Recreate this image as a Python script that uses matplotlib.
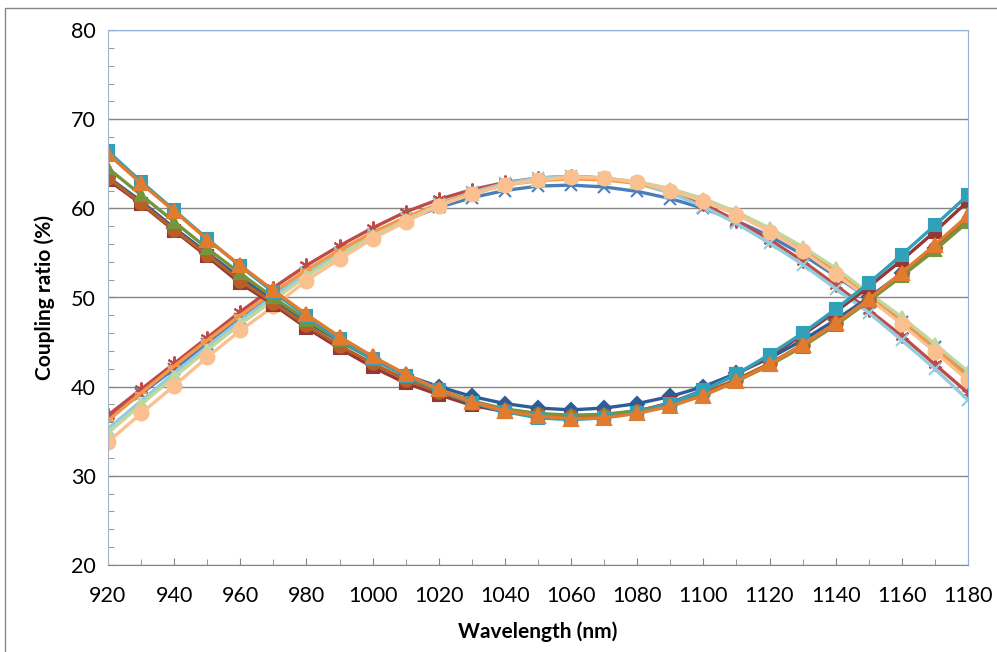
import matplotlib
matplotlib.use("Agg")
import matplotlib.pyplot as plt
import numpy as np
from matplotlib.patches import Rectangle

plt.rcParams['font.family'] = ['Lato', 'DejaVu Sans']

wl = np.arange(920, 1181, 10)

# falling branch (starts high, dips near 1060)
down_diamond = [63.5, 60.8, 57.8, 55.0, 52.2, 49.8, 47.3, 45.1, 43.1, 41.3, 40.0, 38.9, 38.1, 37.6,
                37.4, 37.6, 38.1, 38.9, 40.0, 41.5, 43.2, 45.2, 47.5, 50.0, 52.7, 55.5, 58.6]
down_square = [63.2, 60.5, 57.5, 54.6, 51.6, 49.2, 46.6, 44.3, 42.2, 40.4, 39.1, 37.9, 37.2, 36.7,
               36.5, 36.7, 37.2, 38.2, 39.6, 41.4, 43.4, 45.8, 48.4, 51.2, 54.2, 57.4, 60.8]
down_triangle = [64.5, 61.5, 58.5, 55.5, 52.7, 50.0, 47.5, 45.2, 43.1, 41.3, 39.7, 38.4, 37.5, 37.0,
                 36.8, 36.9, 37.3, 38.0, 39.1, 40.6, 42.4, 44.5, 46.9, 49.6, 52.4, 55.3, 58.5]
down_teal = [66.4, 63.0, 59.8, 56.6, 53.5, 50.6, 47.9, 45.3, 43.1, 41.2, 39.6, 38.2, 37.2, 36.5,
             36.3, 36.5, 37.1, 38.1, 39.6, 41.4, 43.6, 46.0, 48.7, 51.6, 54.8, 58.1, 61.5]
down_orange = [66.1, 62.8, 59.7, 56.5, 53.6, 50.8, 48.1, 45.6, 43.4, 41.4, 39.7, 38.3, 37.3, 36.7,
               36.4, 36.5, 37.0, 37.8, 39.0, 40.6, 42.5, 44.7, 47.1, 49.8, 52.8, 55.9, 59.2]
down_circle = [63.4, 60.6, 57.6, 54.8, 51.9, 49.4, 46.9, 44.6, 42.6, 40.8, 39.4, 38.2, 37.4, 36.9,
               36.7, 36.8, 37.3, 38.1, 39.3, 40.8, 42.6, 44.7, 47.1, 49.7, 52.5, 55.5, 58.7]

# rising branch (starts low, peaks near 1060)
up_x = [36.5, 39.2, 42.0, 44.8, 47.6, 50.2, 52.7, 55.0, 57.0, 58.7, 60.1, 61.2, 62.0, 62.5,
        62.6, 62.4, 61.9, 61.1, 60.0, 58.6, 56.9, 54.8, 52.4, 49.9, 47.2, 44.4, 41.5]
up_star = [36.8, 39.7, 42.6, 45.5, 48.4, 51.1, 53.6, 55.8, 57.8, 59.6, 61.0, 62.1, 62.9, 63.4,
           63.6, 63.4, 62.9, 61.9, 60.5, 58.6, 56.5, 54.1, 51.4, 48.6, 45.7, 42.5, 39.3]
up_triangle = [34.8, 38.0, 41.1, 44.1, 47.0, 49.7, 52.4, 54.7, 56.9, 58.7, 60.4, 61.6, 62.6, 63.2,
               63.5, 63.4, 63.0, 62.2, 61.1, 59.6, 57.8, 55.7, 53.3, 50.5, 47.8, 44.8, 41.7]
up_lightblue = [35.3, 38.4, 41.5, 44.5, 47.4, 50.1, 52.7, 55.0, 57.1, 58.9, 60.5, 61.8, 62.8, 63.4,
                63.6, 63.4, 62.8, 61.7, 60.2, 58.3, 56.1, 53.7, 51.0, 48.3, 45.2, 42.0, 38.5]
up_orange = [36.2, 39.3, 42.3, 45.2, 48.0, 50.6, 53.1, 55.3, 57.3, 59.0, 60.5, 61.7, 62.6, 63.1,
             63.3, 63.2, 62.8, 62.0, 60.9, 59.4, 57.6, 55.5, 53.0, 50.3, 47.5, 44.4, 41.1]
up_circle = [33.8, 37.0, 40.1, 43.3, 46.3, 49.0, 51.9, 54.3, 56.6, 58.5, 60.3, 61.6, 62.6, 63.2,
             63.5, 63.4, 62.9, 62.0, 60.8, 59.3, 57.4, 55.2, 52.6, 49.9, 47.0, 43.9, 40.7]

series = [
    (up_x, "#4A7EBB", "x", 8),
    (up_star, "#BE4B48", (6, 2, 0), 10),
    (up_lightblue, "#93CDDD", "x", 8),
    (up_orange, "#F79646", "_", 8),
    (up_triangle, "#C3D69B", "^", 9),
    (up_circle, "#FAC090", "o", 10),
    (down_diamond, "#2C5D98", "D", 7),
    (down_square, "#953735", "s", 8),
    (down_circle, "#B65F27", "o", 9),
    (down_triangle, "#77933C", "^", 9),
    (down_teal, "#31A0B8", "s", 9),
    (down_orange, "#E07B30", "^", 10),
]

fig = plt.figure(figsize=(9.97, 6.52), dpi=100)
ax = fig.add_axes([108 / 997, 1 - 565 / 652, 860 / 997, 535 / 652])

for vals, col, mk, ms in series:
    ax.plot(wl, vals, color=col, lw=2.4, marker=mk, ms=ms, mec=col, mfc=col, mew=1.5)

ax.set_xlim(920, 1180)
ax.set_ylim(20, 80)
ax.set_xticks(np.arange(920, 1181, 20))
ax.set_xticks(np.arange(920, 1181, 10), minor=True)
ax.set_yticks(np.arange(20, 81, 10))
ax.set_yticks(np.arange(20, 81, 2), minor=True)
ax.yaxis.grid(True, which="major", color="#868686", lw=1)
ax.set_axisbelow(True)
ax.tick_params(which="both", direction="in", color="#868686", labelsize=15.5)
ax.tick_params(which="major", length=5)
ax.tick_params(which="minor", length=4)
ax.tick_params(axis="y", which="major", pad=9)
ax.tick_params(axis="x", which="major", pad=15)

ax.spines["top"].set_color("#95B3D7")
ax.spines["right"].set_color("#95B3D7")
ax.spines["left"].set_color("#A6B5C8")
ax.spines["bottom"].set_color("#868686")

ax.set_xlabel("Wavelength (nm)", fontsize=15, fontweight="bold", labelpad=11)
ax.set_ylabel("Coupling ratio (%)", fontsize=15, fontweight="bold", labelpad=11)

fig.patches.append(Rectangle((5 / 997, -0.1), 1.2, 1 - 8 / 652 + 0.1, transform=fig.transFigure,
                             fill=False, edgecolor="#868686", lw=1))

plt.savefig("out.png", dpi=100)
